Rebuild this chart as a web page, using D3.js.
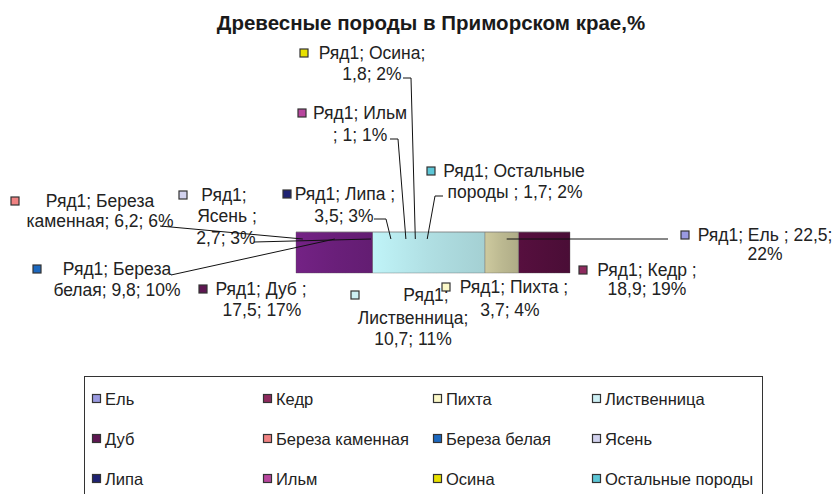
<!DOCTYPE html>
<html><head><meta charset="utf-8">
<script src="https://cdn.jsdelivr.net/npm/d3@7"></script>
<style>
body{margin:0;background:#fff;}
svg{display:block;font-family:"Liberation Sans",Arial,sans-serif;}
</style></head>
<body><svg id="c" width="836" height="494"></svg>
<script>
// ---------- data ----------
const title = "Древесные породы в Приморском крае,%";
const seriesName = "Ряд1";
const categories = ["Ель ", "Кедр ", "Пихта ", "Лиственница", "Дуб ", "Береза каменная",
  "Береза белая", "Ясень ", "Липа ", "Ильм ", "Осина", "Остальные породы "];
const values = [22.5, 18.9, 3.7, 10.7, 17.5, 6.2, 9.8, 2.7, 3.5, 1, 1.8, 1.7];
const percents = [22, 19, 4, 11, 17, 6, 10, 3, 3, 1, 2, 2];
const legendColors = ["#9a9ae0", "#8e2a5e", "#fbf8c8", "#cdeff4", "#5e1752", "#f08282",
  "#1c68bf", "#d2d2ee", "#1e2272", "#b8469e", "#e8e000", "#5cc6d6"];
const sideColors = ["#8f8fd6", "#500e3a", "#bcb991", "#b0dfe3", "#6a1f7a", "#e07070",
  "#1c5ea8", "#b8b8e0", "#1a1e66", "#9e3a88", "#cfc800", "#4fb2c2"];
// words per line in each data label
const labelWrap = [[4,1],[3,2],[3,2],[1,1,2],[3,2],[2,3],[2,3],[1,2,2],[3,2],[2,3],[2,2],[2,4]];

// ---------- layout ----------
const svg = d3.select("#c");
const pie3d = {cx: 433, top: 232, bottom: 273, halfW: 137, k: 0.23, anchorY: 239};
const labelLayout = [
  {mx:685, my:235, cx:[765,765], ys:[235,254], lead:[[668,239]]},
  {mx:583, my:270, cx:[647,647], ys:[270,289]},
  {mx:446, my:287, cx:[514,510], ys:[287,310]},
  {mx:355, my:295, cx:[426,413,413], ys:[295,318,339]},
  {mx:203, my:289, cx:[261,262], ys:[289,310]},
  {mx:15,  my:201, cx:[100,100], ys:[201,221], lead:[[160,226]]},
  {mx:37,  my:269, cx:[117,117], ys:[269,290], lead:[[171,275]]},
  {mx:183, my:195, cx:[224,227,226], ys:[195,216,238], lead:[[254,242]]},
  {mx:287, my:194, cx:[345,344], ys:[194,216], lead:[[374,219],[386,219]]},
  {mx:302, my:113, cx:[360,360], ys:[113,135], lead:[[390,139],[398,139]]},
  {mx:304, my:53,  cx:[372,372], ys:[53,74], lead:[[403,78],[411,78]]},
  {mx:431, my:171, cx:[514,515], ys:[171,192], lead:[[443,196],[435,196]]}
];
const legendBox = {x:84, y:376, w:678, h:130};
const legendCols = [92, 263, 433, 592];
const legendRows = [398, 438, 478];

// ---------- title ----------
svg.append("text").attr("x", 431).attr("y", 22).attr("text-anchor", "middle")
  .attr("dominant-baseline", "central").attr("font-weight", "bold").attr("font-size", 20.5)
  .attr("fill", "#1a1a1a").text(title);

// ---------- pie (edge-on 3D with perspective) ----------
const pie = d3.pie().sort(null).value(d => d).startAngle(0).endAngle(2 * Math.PI);
const arcs = pie(values);
const k = pie3d.k, norm = Math.sqrt(1 - k * k);
const projX = a => pie3d.cx + pie3d.halfW * Math.sin(a) * norm / (1 + k * Math.cos(a));
const visLo = Math.acos(-k), visHi = 2 * Math.PI - Math.acos(-k);

const defs = svg.append("defs");
const sides = svg.append("g");
arcs.forEach((a, i) => {
  const lo = Math.max(a.startAngle, visLo), hi = Math.min(a.endAngle, visHi);
  if (hi <= lo) return;
  const n = 40, pts = [];
  for (let j = 0; j <= n; j++) { const t = lo + (hi - lo) * j / n; pts.push([projX(t), pie3d.top]); }
  for (let j = n; j >= 0; j--) { const t = lo + (hi - lo) * j / n; pts.push([projX(t), pie3d.bottom]); }
  const gid = "g" + i;
  const base = d3.color(sideColors[i]);
  const gr = defs.append("linearGradient").attr("id", gid).attr("x1", 0).attr("x2", 1).attr("y1", 0).attr("y2", 0);
  gr.append("stop").attr("offset", 0).attr("stop-color", base.brighter(0.25));
  gr.append("stop").attr("offset", 0.5).attr("stop-color", base);
  gr.append("stop").attr("offset", 1).attr("stop-color", base.darker(0.2));
  sides.append("path").attr("d", d3.line()(pts) + "Z").attr("fill", `url(#${gid})`)
    .attr("stroke", "#555").attr("stroke-width", 0.6).attr("stroke-opacity", 0.6);
});
// thin top rim
svg.append("line").attr("x1", pie3d.cx - pie3d.halfW).attr("x2", pie3d.cx + pie3d.halfW)
  .attr("y1", pie3d.top).attr("y2", pie3d.top).attr("stroke", "#888").attr("stroke-width", 1).attr("stroke-opacity", 0.6);

// ---------- data labels ----------
const fmt = v => String(v).replace(".", ",");
const lab = svg.append("g").attr("font-size", 17.5).attr("fill", "#222");
arcs.forEach((a, i) => {
  const L = labelLayout[i];
  const words = `${seriesName}; ${categories[i]}; ${fmt(values[i])}; ${percents[i]}%`.split(" ");
  let w = 0;
  labelWrap[i].forEach((cnt, li) => {
    const line = words.slice(w, w + cnt).join(" "); w += cnt;
    lab.append("text").attr("x", L.cx[li]).attr("y", L.ys[li]).attr("text-anchor", "middle")
      .attr("dominant-baseline", "central").text(line);
  });
  lab.append("rect").attr("x", L.mx - 4).attr("y", L.my - 4).attr("width", 8).attr("height", 8)
    .attr("fill", legendColors[i]).attr("stroke", "#333").attr("stroke-width", 1.2);
  if (L.lead) {
    const mid = (a.startAngle + a.endAngle) / 2;
    const pts = L.lead.concat([[projX(mid), pie3d.anchorY]]);
    svg.append("path").attr("d", d3.line()(pts)).attr("fill", "none").attr("stroke", "#111").attr("stroke-width", 1);
  }
});

// ---------- legend ----------
svg.append("rect").attr("x", legendBox.x + 0.5).attr("y", legendBox.y + 0.5).attr("width", legendBox.w)
  .attr("height", legendBox.h).attr("fill", "none").attr("stroke", "#333").attr("stroke-width", 1);
const leg = svg.append("g").attr("font-size", 16.5).attr("fill", "#222");
categories.forEach((c, i) => {
  const x = legendCols[i % 4], y = legendRows[Math.floor(i / 4)];
  leg.append("rect").attr("x", x + 0.5).attr("y", y - 3.5).attr("width", 8).attr("height", 8)
    .attr("fill", legendColors[i]).attr("stroke", "#333").attr("stroke-width", 1.2);
  leg.append("text").attr("x", x + 13).attr("y", y + 1).attr("dominant-baseline", "central").text(c.trim());
});
</script></body></html>
